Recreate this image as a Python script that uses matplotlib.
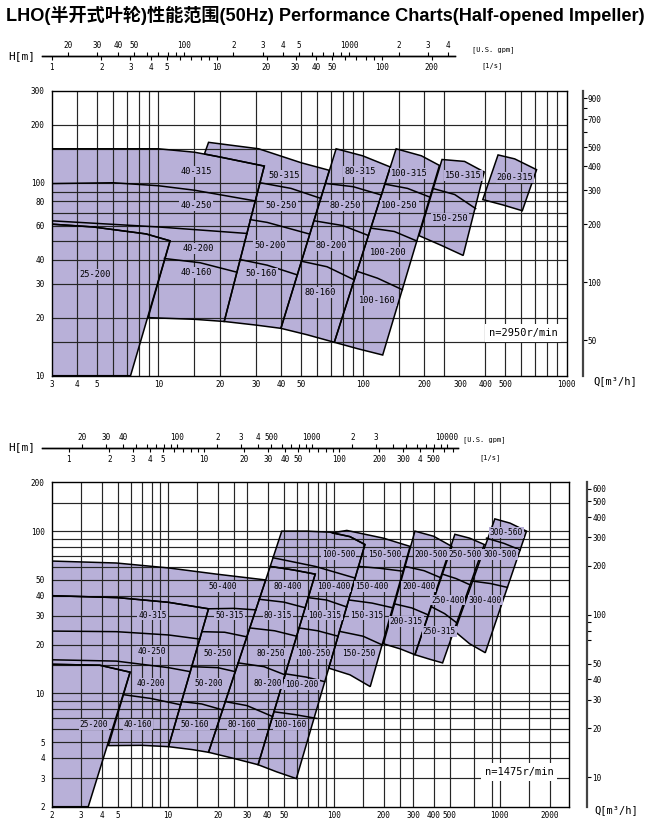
import matplotlib
matplotlib.use('Agg')
import matplotlib.pyplot as plt
from matplotlib.ticker import FixedLocator, FixedFormatter, NullLocator, NullFormatter
from matplotlib import font_manager

FILL = '#b8b0d8'
GRID = '#262626'
MONO = 'DejaVu Sans Mono'

TITLE = 'LHO(半开式叶轮)性能范围(50Hz) Performance Charts(Half-opened Impeller)'

# ================= top chart (n = 2950 r/min): Q [m3/h], H [m] =================
T_OUT_25 = [(3, 10), (3, 61), (4.8, 59), (8.7, 54.3), (11.4, 50), (7.3, 10)]
T_OUT_40 = [(3, 61), (3, 150), (10, 150), (15, 144), (20, 136), (33, 122), (21, 19.1),
            (15, 19.6), (8.9, 20), (11.4, 50), (8.7, 54.3), (4.8, 59)]
T_OUT_50 = [(16.8, 141), (17.6, 162), (31, 150), (50, 127), (68.7, 116), (39.8, 17.6),
            (30, 18.3), (21, 19.1), (33, 122), (20, 136)]
T_OUT_80 = [(74.2, 150), (100, 138), (136.8, 120.7), (72.7, 14.9), (53.5, 16.3), (39.8, 17.6)]
T_OUT_100 = [(146, 150), (194, 138), (238, 123), (125.5, 12.8), (94.6, 13.8), (72.7, 14.9)]
T_OUT_150 = [(245, 132), (316, 129), (394, 113.8), (311, 42), (243.7, 47.3), (189, 53.2)]
T_OUT_200 = [(461, 139.4), (556, 133), (712, 116.9), (606, 71.6), (490, 76.6), (388, 81.8)]

T_DIV_40A = [(3, 99), (6, 100), (10, 96.5), (15, 91.5), (29.8, 80.5)]
T_DIV_40B = [(3, 63.5), (10, 59), (27.2, 54.6)]
T_DIV_40C = [(10.7, 40.5), (16, 38.5), (24.2, 34.4)]
T_DIV_50A = [(31.5, 100), (44.6, 93.5), (62.4, 83)]
T_DIV_50B = [(28.2, 64.4), (34.1, 62.3), (54.7, 54.3)]
T_DIV_50C = [(25.1, 40), (34.1, 37.4), (47.9, 33.3)]
T_DIV_80A = [(66, 99.2), (90, 95.4), (123.6, 86.4)]
T_DIV_80B = [(58, 63.5), (80, 60), (106.8, 53.3)]
T_DIV_80C = [(50.2, 39.2), (67, 36.7), (91, 31.4)]
T_DIV_100A = [(128.5, 98.4), (166, 93.5), (214, 84.2)]
T_DIV_100B = [(109.7, 58.2), (143, 55.9), (184.5, 49.9)]
T_DIV_100C = [(93, 34.9), (118.5, 32), (156.7, 27.9)]
T_DIV_150 = [(220.5, 93.5), (282.7, 86.9), (358, 73.5)]

T_LAB_NAME = ['40-315', '40-250', '40-200', '40-160', '25-200',
              '50-315', '50-250', '50-200', '50-160',
              '80-315', '80-250', '80-200', '80-160',
              '100-315', '100-250', '100-200', '100-160',
              '150-315', '150-250', '200-315']
T_LAB_Q = [15.3, 15.3, 15.7, 15.3, 4.9,
           41.1, 39.8, 35.1, 31.7,
           97, 82.5, 70.5, 62,
           169, 152, 133.6, 118.5,
           312, 268, 558]
T_LAB_H = [115, 76, 45.8, 34.4, 33.6,
           108.6, 76.6, 47.4, 33.7,
           115, 76, 47.2, 27,
           112, 75.8, 43.3, 24.5,
           109, 65, 107]

T_XTICKS = [3, 4, 5, 10, 20, 30, 40, 50, 100, 200, 300, 400, 500, 1000]
T_YTICKS = [10, 20, 30, 40, 60, 80, 100, 200, 300]
T_VGRID = [4, 5, 6, 7, 8, 9, 10, 15, 20, 30, 40, 50, 60, 70, 80, 90, 100, 150, 200, 250,
           400, 500, 600, 700, 800, 900]
T_HGRID = [15, 20, 30, 40, 50, 60, 70, 80, 90, 100, 150, 200]
T_FT_MAJOR = [50, 100, 200, 300, 400, 500, 700, 900]
T_FT_MINOR = [600, 800]
T_LPS = [1, 2, 3, 4, 5, 10, 20, 30, 40, 50, 100, 200]
T_LPS_LAB = ['1', '2', '3', '4', '5', '10', '20', '30', '40', '50', '100', '200']
T_LPS_MINOR = [6, 7, 8, 9, 60, 70, 80, 90]
T_GPM = [20, 30, 40, 50, 100, 200, 300, 400, 500, 1000, 2000, 3000, 4000]
T_GPM_LAB = ['20', '30', '40', '50', '100', '2', '3', '4', '5', '1000', '2', '3', '4']
T_GPM_MINOR = [60, 70, 80, 90, 600, 700, 800, 900]

# ================= bottom chart (n = 1475 r/min) =================
B_OUT_25 = [(2, 2), (2, 15.1), (3.9, 14.9), (5.93, 13.5), (3.32, 2)]
B_OUT_40 = [(2, 15.1), (2, 40), (5, 38.9), (10.1, 36.4), (17.6, 33.2), (10.1, 4.69),
            (7, 4.78), (4.39, 4.76), (5.93, 13.5), (3.9, 14.9)]
B_OUT_50 = [(2, 40), (2, 65.4), (4.9, 63.6), (10.1, 59.3), (19.7, 54.3), (38.9, 50),
            (17.6, 4.33), (14, 4.5), (10.1, 4.69), (17.6, 33.2), (10.1, 36.4), (5, 38.9)]
B_OUT_80 = [(41.4, 60.6), (57.2, 57.6), (77.3, 54.3), (35, 3.63), (24.7, 3.98), (17.6, 4.33)]
B_OUT_100 = [(48.6, 100), (68.9, 100), (95, 98.5), (125, 92.5), (154, 82.7), (59.5, 2.98),
             (45.3, 3.28), (35, 3.63), (77.3, 54.3), (57.2, 57.6), (41.4, 60.6)]
B_OUT_150 = [(97.2, 97.5), (119.8, 101), (199, 90.5), (288, 80.5), (165.7, 11.0),
             (125.2, 13.0), (93.2, 14.3), (154, 82.7), (125, 92.5)]
B_OUT_200 = [(308, 100), (399, 93), (514, 80.5), (308, 17.3), (251, 18.8), (199, 20.2)]
B_OUT_250 = [(536, 95.6), (658, 90.5), (806, 82.7), (452, 15.4), (380, 16.2), (308, 17.3)]
B_OUT_300 = [(933, 119), (1153, 112), (1447, 100), (817, 17.8), (658, 20.2), (535, 24.1)]

B_DIV_40A = [(2, 24.2), (4.9, 24.0), (10.1, 22.9), (15.6, 21.6)]
B_DIV_40B = [(2, 16.1), (4.9, 15.8), (10.1, 14.4), (13.66, 13.6)]
B_DIV_40C = [(5.45, 9.8), (7.9, 9.3), (11.96, 8.5)]
B_DIV_50A = [(17.6, 33.2), (25, 33.4), (33.9, 32.7)]
B_DIV_50B = [(16.05, 24), (22, 23.8), (29.9, 22.3)]
B_DIV_50C = [(13.9, 14.6), (20, 14.4), (25.5, 13.6)]
B_DIV_50D = [(12.1, 8.9), (16, 8.6), (21.4, 7.9)]
B_DIV_80A = [(35.6, 38), (50, 36.5), (67.2, 33.7)]
B_DIV_80B = [(31.2, 25.3), (44, 24.3), (59.7, 22.5)]
B_DIV_80C = [(26.6, 15.4), (38, 14.6), (50.8, 13.0)]
B_DIV_80D = [(22.1, 8.9), (30, 8.4), (42.7, 7.2)]
B_DIV_100A = [(43.1, 68.5), (77.3, 60.6), (134, 51.4)]
B_DIV_100B = [(70.1, 38.9), (90.4, 37.6), (119.5, 34.1)]
B_DIV_100C = [(61.8, 25.3), (80, 24.3), (106, 22.5)]
B_DIV_100D = [(50.8, 13.2), (68, 12.6), (88.2, 11.8)]
B_DIV_100E = [(43.5, 7.7), (58, 7.4), (79, 7.0)]
B_DIV_150A = [(140.9, 60.6), (190, 59), (261, 56.6)]
B_DIV_150B = [(124, 37.6), (170, 36), (226, 33.7)]
B_DIV_150C = [(108.2, 24.1), (150, 22.5), (195.4, 19.9)]
B_DIV_200A = [(268.7, 60.6), (350, 57), (443, 51.5)]
B_DIV_200B = [(232, 35.6), (295, 33.6), (372, 30.4)]
B_DIV_250A = [(451, 54.3), (545, 51), (660, 46.7)]
B_DIV_250B = [(386.5, 34.2), (465, 31), (550, 27.2)]
B_DIV_300A = [(831, 90.5), (1060, 84), (1325, 76.6)]
B_DIV_300B = [(674, 49.3), (880, 47.5), (1110, 45)]

B_LAB_NAME = ['25-200', '40-160', '40-200', '40-250', '40-315',
              '50-400', '50-315', '50-250', '50-200', '50-160',
              '80-400', '80-315', '80-250', '80-200', '80-160',
              '100-500', '100-400', '100-315', '100-250', '100-200', '100-160',
              '150-500', '150-400', '150-315', '150-250',
              '200-500', '200-400', '200-315',
              '250-500', '250-400', '250-315',
              '300-560', '300-500', '300-400']
B_LAB_Q = [3.6, 6.6, 7.9, 8.0, 8.1,
           21.4, 23.5, 20.1, 17.6, 14.6,
           53, 46.1, 41.9, 39.9, 28,
           106.6, 100, 88.6, 75.6, 64.4, 54.6,
           202, 169, 158, 141,
           386, 324, 274,
           619, 485, 433,
           1097, 1008, 815]
B_LAB_H = [6.4, 6.4, 11.5, 18.2, 30.4,
           45.4, 30.4, 17.7, 11.5, 6.4,
           45.4, 30.4, 17.7, 11.5, 6.4,
           71.6, 45.4, 30.4, 17.7, 11.4, 6.4,
           71.6, 45.4, 30.4, 17.7,
           71.6, 45.4, 27.8,
           71.6, 37.6, 24.1,
           98.1, 71.6, 37.6]

B_XTICKS = [2, 3, 4, 5, 10, 20, 30, 40, 50, 100, 200, 300, 400, 500, 1000, 2000]
B_YTICKS = [2, 3, 4, 5, 10, 20, 30, 40, 50, 100, 200]
B_VGRID = [3, 4, 5, 6, 7, 8, 9, 10, 15, 20, 25, 30, 40, 50, 60, 70, 80, 90, 100, 150, 200,
           250, 300, 400, 500, 700, 900, 1000, 1500, 2000]
B_HGRID = [3, 4, 5, 6, 7, 8, 9, 10, 15, 20, 30, 40, 50, 60, 70, 80, 90, 100, 150]
B_FT_MAJOR = [10, 20, 30, 40, 50, 100, 200, 300, 400, 500, 600]
B_FT_MINOR = [70, 80, 90]
B_LPS = [1, 2, 3, 4, 5, 10, 20, 30, 40, 50, 100, 200, 300, 400, 500]
B_LPS_LAB = ['1', '2', '3', '4', '5', '10', '20', '30', '40', '50', '100', '200', '300', '4', '500']
B_LPS_MINOR = [6, 7, 8, 9, 60, 70, 80, 90, 600, 700]
B_GPM = [10, 20, 30, 40, 100, 200, 300, 400, 500, 1000, 2000, 3000, 10000]
B_GPM_LAB = ['10', '20', '30', '40', '100', '2', '3', '4', '500', '1000', '2', '3', '10000']
B_GPM_MINOR = [50, 60, 70, 80, 90, 600, 700, 800, 900, 4000, 5000, 6000, 7000, 8000, 9000]

GPM_PER_LPS = 15.85
FT_PER_M = 3.28084

# ------------------------------------------------------------------
fig = plt.figure(figsize=(6.5, 8.3), dpi=100)
FW, FH = 650, 830


def px_axes(l, t, r, b):
    return fig.add_axes([l / FW, 1 - b / FH, (r - l) / FW, (b - t) / FH])


def m2ft(m):
    return m * FT_PER_M


def ft2m(f):
    return f / FT_PER_M


def lps2gpm(v):
    return v * GPM_PER_LPS


def gpm2lps(v):
    return v / GPM_PER_LPS


def style_labels(labels, size):
    for t in labels:
        t.set_family(MONO)
        t.set_fontsize(size)


def panel(ax, xlim, ylim, vgrid, hgrid, xt, yt, outlines, dividers,
          names, lq, lh, lsize, speed, sxy, ft_loc, ft_major, ft_minor):
    ax.set_xscale('log')
    ax.set_yscale('log')
    ax.set_xlim(*xlim)
    ax.set_ylim(*ylim)
    for poly in outlines:
        ax.fill([p[0] for p in poly], [p[1] for p in poly], facecolor=FILL,
                edgecolor='none', zorder=1)
    for v in vgrid:
        ax.axvline(v, color=GRID, lw=0.85, zorder=2)
    for v in hgrid:
        ax.axhline(v, color=GRID, lw=0.85, zorder=2)
    for poly in outlines:
        ax.fill([p[0] for p in poly], [p[1] for p in poly], facecolor='none',
                edgecolor='black', lw=1.1, zorder=3)
    for d in dividers:
        ax.plot([p[0] for p in d], [p[1] for p in d], color='black', lw=1.1, zorder=3)
    for n, q, h in zip(names, lq, lh):
        ax.text(q, h, n, ha='center', va='center', fontsize=lsize, family=MONO, zorder=5,
                bbox=dict(boxstyle='square,pad=0.12', fc=FILL, ec='none'))
    ax.text(sxy[0], sxy[1], speed, transform=ax.transAxes, ha='center', va='center',
            fontsize=7.5, family=MONO, zorder=6,
            bbox=dict(boxstyle='square,pad=0.35', fc='white', ec='none'))
    ax.xaxis.set_major_locator(FixedLocator(xt))
    ax.xaxis.set_major_formatter(FixedFormatter([str(v) for v in xt]))
    ax.xaxis.set_minor_locator(NullLocator())
    ax.yaxis.set_major_locator(FixedLocator(yt))
    ax.yaxis.set_major_formatter(FixedFormatter([str(v) for v in yt]))
    ax.yaxis.set_minor_locator(NullLocator())
    ax.tick_params(which='both', length=0)
    ax.tick_params(axis='y', pad=5)
    ax.tick_params(axis='x', pad=3)
    style_labels(ax.get_xticklabels() + ax.get_yticklabels(), 5.5)
    for s in ax.spines.values():
        s.set_linewidth(1.0)
        s.set_zorder(4)
    sec = ax.secondary_yaxis(ft_loc, functions=(m2ft, ft2m))
    sec.yaxis.set_major_locator(FixedLocator(ft_major))
    sec.yaxis.set_major_formatter(FixedFormatter([str(v) for v in ft_major]))
    sec.yaxis.set_minor_locator(FixedLocator(ft_minor))
    sec.yaxis.set_minor_formatter(NullFormatter())
    sec.tick_params(axis='y', which='both', direction='out', length=3, width=0.8, pad=0.5)
    sec.spines['right'].set_linewidth(1.6)
    sec.spines['right'].set_color('#444444')
    style_labels(sec.get_yticklabels(), 5.5)


def flow_bar(l, r, y, lps_lim, lps, lps_lab, lps_minor, gpm, gpm_lab, gpm_minor):
    bar = fig.add_axes([l / FW, 1 - y / FH, (r - l) / FW, 0.0001])
    bar.set_xscale('log')
    bar.set_xlim(*lps_lim)
    bar.set_yticks([])
    for s in ['left', 'right', 'top']:
        bar.spines[s].set_visible(False)
    bar.spines['bottom'].set_linewidth(1.0)
    bar.patch.set_alpha(0)
    bar.xaxis.set_major_locator(FixedLocator(lps))
    bar.xaxis.set_major_formatter(FixedFormatter(lps_lab))
    bar.xaxis.set_minor_locator(FixedLocator(lps_minor))
    bar.xaxis.set_minor_formatter(NullFormatter())
    bar.tick_params(axis='x', which='both', direction='out', length=3, width=0.8, pad=2)
    style_labels(bar.get_xticklabels(), 5.5)
    sec = bar.secondary_xaxis('top', functions=(lps2gpm, gpm2lps))
    sec.xaxis.set_major_locator(FixedLocator(gpm))
    sec.xaxis.set_major_formatter(FixedFormatter(gpm_lab))
    sec.xaxis.set_minor_locator(FixedLocator(gpm_minor))
    sec.xaxis.set_minor_formatter(NullFormatter())
    sec.tick_params(axis='x', which='both', direction='out', length=3, width=0.8, pad=1.5)
    sec.spines['top'].set_linewidth(1.0)
    style_labels(sec.get_xticklabels(), 5.5)


# ---------------- top chart ----------------
ax1 = px_axes(51.7, 90.7, 566.7, 375.7)
panel(ax1, (3, 1000), (10, 300), T_VGRID, T_HGRID, T_XTICKS, T_YTICKS,
      [T_OUT_25, T_OUT_40, T_OUT_50, T_OUT_80, T_OUT_100, T_OUT_150, T_OUT_200],
      [T_DIV_40A, T_DIV_40B, T_DIV_40C, T_DIV_50A, T_DIV_50B, T_DIV_50C,
       T_DIV_80A, T_DIV_80B, T_DIV_80C, T_DIV_100A, T_DIV_100B, T_DIV_100C, T_DIV_150],
      T_LAB_NAME, T_LAB_Q, T_LAB_H, 6.2, 'n=2950r/min', (0.915, 0.15),
      1.031, T_FT_MAJOR, T_FT_MINOR)
flow_bar(41.7, 455, 56, (0.87, 277), T_LPS, T_LPS_LAB, T_LPS_MINOR,
         T_GPM, T_GPM_LAB, T_GPM_MINOR)

# ---------------- bottom chart ----------------
ax2 = px_axes(51.7, 482.3, 569.3, 806.7)
panel(ax2, (2, 2620), (2, 200), B_VGRID, B_HGRID, B_XTICKS, B_YTICKS,
      [B_OUT_25, B_OUT_40, B_OUT_50, B_OUT_80, B_OUT_100, B_OUT_150, B_OUT_200,
       B_OUT_250, B_OUT_300],
      [B_DIV_40A, B_DIV_40B, B_DIV_40C, B_DIV_50A, B_DIV_50B, B_DIV_50C, B_DIV_50D,
       B_DIV_80A, B_DIV_80B, B_DIV_80C, B_DIV_80D,
       B_DIV_100A, B_DIV_100B, B_DIV_100C, B_DIV_100D, B_DIV_100E,
       B_DIV_150A, B_DIV_150B, B_DIV_150C, B_DIV_200A, B_DIV_200B,
       B_DIV_250A, B_DIV_250B, B_DIV_300A, B_DIV_300B],
      B_LAB_NAME, B_LAB_Q, B_LAB_H, 5.7, 'n=1475r/min', (0.903, 0.107),
      1.035, B_FT_MAJOR, B_FT_MINOR)
flow_bar(41.7, 458.3, 448.3, (0.631, 768), B_LPS, B_LPS_LAB, B_LPS_MINOR,
         B_GPM, B_GPM_LAB, B_GPM_MINOR)

# ---------------- texts ----------------
for yy in (56, 447):
    fig.text(22 / FW, 1 - yy / FH, 'H[m]', ha='center', va='center', fontsize=8, family=MONO)
fig.text(493 / FW, 1 - 50 / FH, '[U.S. gpm]', ha='center', va='center', fontsize=5, family=MONO)
fig.text(492 / FW, 1 - 66 / FH, '[1/s]', ha='center', va='center', fontsize=5, family=MONO)
fig.text(484 / FW, 1 - 440 / FH, '[U.S. gpm]', ha='center', va='center', fontsize=5, family=MONO)
fig.text(490 / FW, 1 - 458 / FH, '[1/s]', ha='center', va='center', fontsize=5, family=MONO)
fig.text(615 / FW, 1 - 381 / FH, 'Q[m³/h]', ha='center', va='center', fontsize=7.5, family=MONO)
fig.text(616 / FW, 1 - 810 / FH, 'Q[m³/h]', ha='center', va='center', fontsize=7.5, family=MONO)

names = {f.name for f in font_manager.fontManager.ttflist}
tfam = 'Liberation Sans Narrow' if 'Liberation Sans Narrow' in names else 'Liberation Sans'
title = fig.text(0.5, 1 - 15 / FH, TITLE, ha='center', va='center', fontsize=12,
                 fontweight='bold', family=[tfam, 'Noto Sans CJK SC'])
fig.canvas.draw()
bw = title.get_window_extent().width
title.set_fontsize(12 * 638 / bw)

fig.savefig('out.png', dpi=100)
